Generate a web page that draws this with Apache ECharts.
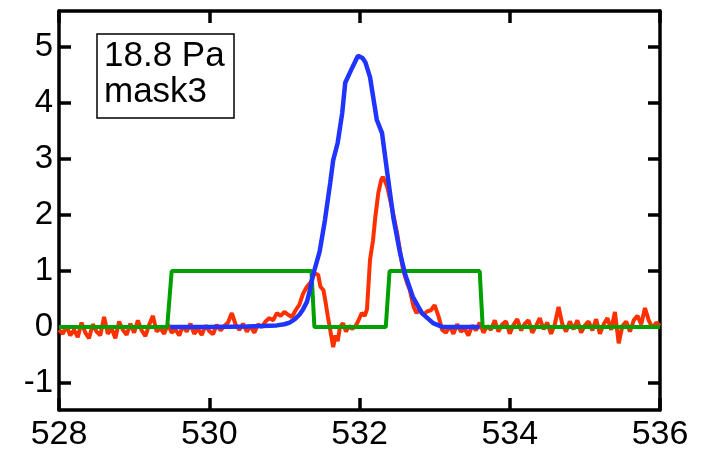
<!DOCTYPE html>
<html>
<head>
<meta charset="utf-8">
<script src="https://cdn.jsdelivr.net/npm/echarts@6/dist/echarts.min.js"></script>
<style>html,body{margin:0;padding:0;background:#fff;}#c{width:706px;height:452px;}</style>
</head>
<body>
<div id="c"></div>
<script>
// ---- data ----
const yTickValues = [-1, 0, 1, 2, 3, 4, 5];
const xTickValues = [528, 530, 532, 534, 536];
const boxLines = ['18.8 Pa', 'mask3'];

const greenX = [528, 529.44, 529.5, 531.36, 531.4, 532.35, 532.4, 533.6, 533.64, 536];
const greenY = [0, 0, 1, 1, 0, 0, 1, 1, 0, 0];

const blueX = [529.48, 530.0, 530.5, 530.9, 531.0, 531.07, 531.14, 531.2, 531.25, 531.3, 531.34, 531.38, 531.47, 531.54, 531.61, 531.65, 531.71, 531.77, 531.81, 531.9, 531.98, 532.04, 532.08, 532.14, 532.23, 532.3, 532.37, 532.45, 532.54, 532.61, 532.71, 532.83, 532.98, 533.11, 533.6];
const blueY = [0, 0, 0.01, 0.03, 0.05, 0.08, 0.14, 0.22, 0.32, 0.45, 0.66, 0.92, 1.35, 1.91, 2.57, 2.98, 3.29, 3.82, 4.36, 4.62, 4.84, 4.8, 4.72, 4.46, 3.7, 3.46, 2.75, 1.96, 1.32, 0.93, 0.54, 0.25, 0.07, 0.0, 0.0];

const redX = [
528.00,528.05,528.10,528.15,528.20,528.25,528.30,528.35,528.40,528.45,
528.50,528.55,528.60,528.65,528.70,528.75,528.80,528.85,528.90,528.95,
529.00,529.05,529.10,529.15,529.20,529.25,529.30,529.35,529.40,529.45,
529.50,529.55,529.60,529.65,529.70,529.75,529.80,529.85,529.90,529.95,
530.00,530.05,530.10,530.15,530.20,530.25,530.30,530.35,530.40,530.45,
530.50,530.55,530.60,530.65,530.70,530.75,530.80,530.85,530.90,530.95,
531.00,531.05,531.10,531.15,531.20,531.25,531.30,531.35,531.40,531.45,
531.48,531.52,531.55,531.58,531.61,531.65,531.68,531.71,531.74,531.78,
531.82,531.86,531.90,531.94,531.98,532.03,532.07,532.10,532.14,532.18,
532.21,532.25,532.29,532.31,532.34,532.37,532.43,532.50,532.58,532.63,
532.67,532.72,532.76,532.80,532.85,532.90,532.95,533.00,533.05,533.10,
533.15,533.20,533.25,533.30,533.35,533.40,533.45,533.50,533.55,533.60,
533.65,533.70,533.75,533.80,533.85,533.90,533.95,534.00,534.05,534.10,
534.15,534.20,534.25,534.30,534.35,534.40,534.45,534.50,534.55,534.60,
534.65,534.70,534.75,534.80,534.85,534.90,534.95,535.00,535.05,535.10,
535.15,535.20,535.25,535.30,535.35,535.40,535.45,535.50,535.55,535.60,
535.65,535.70,535.75,535.80,535.85,535.90,535.95,536.00];
const redY = [
-0.05,-0.12,0.02,-0.15,-0.05,-0.18,0.08,-0.10,-0.20,0.05,
-0.08,-0.15,0.18,-0.12,-0.02,-0.20,0.10,-0.05,-0.14,0.06,
-0.10,0.12,-0.06,-0.16,0.04,0.20,-0.08,-0.02,-0.12,0.05,
-0.10,-0.04,-0.15,0.02,-0.08,0.06,-0.12,-0.03,-0.14,0.03,
-0.07,-0.13,0.04,-0.06,0.02,0.08,0.25,0.05,-0.05,0.06,
-0.08,0.02,-0.10,0.05,0.00,0.10,0.16,0.12,0.25,0.20,
0.27,0.22,0.18,0.30,0.40,0.60,0.72,0.80,0.96,0.93,
0.72,0.66,0.43,0.18,-0.05,-0.36,-0.15,-0.25,0.00,0.07,
-0.08,0.02,-0.03,0.00,0.10,0.25,0.20,0.32,1.20,1.55,
1.96,2.39,2.63,2.68,2.60,2.50,2.14,1.68,1.02,0.80,
0.66,0.36,0.25,0.32,0.22,0.28,0.30,0.39,0.20,-0.05,
-0.10,0.02,-0.12,0.05,-0.08,-0.03,-0.15,0.03,-0.06,0.08,
-0.10,0.02,-0.05,0.12,-0.08,0.05,0.10,-0.12,0.04,0.14,
-0.06,0.06,0.12,-0.10,0.02,0.16,-0.04,0.08,-0.12,0.05,
0.36,0.05,-0.08,0.10,-0.04,0.12,-0.10,0.03,0.10,-0.06,
0.14,-0.12,0.05,0.16,-0.05,0.27,-0.29,0.02,0.10,-0.08,
0.12,0.20,0.05,0.34,0.12,-0.02,0.08,0.02];

const zip = (xs, ys) => xs.map((x, i) => [x, ys[i]]);

const FONT = '"Liberation Sans", Arial, sans-serif';
const axisLine = { show: true, onZero: false, lineStyle: { color: '#000', width: 3.5 } };
const tick = (vals) => ({ show: true, inside: true, length: 12, lineStyle: { color: '#000', width: 3.5 }, customValues: vals });

const chart = echarts.init(document.getElementById('c'), null, { renderer: 'canvas' });
chart.setOption({
  animation: false,
  backgroundColor: '#fff',
  grid: { left: 59, right: 46, top: 11, bottom: 42, containLabel: false },
  xAxis: [
    { type: 'value', position: 'bottom', min: 528, max: 536, axisLine, axisTick: tick(xTickValues),
      splitLine: { show: false },
      axisLabel: { customValues: xTickValues, color: '#000', fontSize: 34, fontFamily: FONT, margin: 8 } },
    { type: 'value', position: 'top', min: 528, max: 536, axisLine, axisTick: tick(xTickValues),
      splitLine: { show: false }, axisLabel: { show: false } }
  ],
  yAxis: [
    { type: 'value', position: 'left', min: -1.48, max: 5.64, axisLine, axisTick: tick(yTickValues),
      splitLine: { show: false },
      axisLabel: { customValues: yTickValues, color: '#000', fontSize: 33, fontFamily: FONT, margin: 6 } },
    { type: 'value', position: 'right', min: -1.48, max: 5.64, axisLine, axisTick: tick(yTickValues),
      splitLine: { show: false }, axisLabel: { show: false } }
  ],
  series: [
    { type: 'line', data: zip(redX, redY), showSymbol: false, lineStyle: { color: '#ff3000', width: 4 }, z: 2 },
    { type: 'line', data: zip(greenX, greenY), showSymbol: false, lineStyle: { color: '#00a000', width: 4 }, z: 3 },
    { type: 'line', data: zip(blueX, blueY), showSymbol: false, lineStyle: { color: '#1f35ff', width: 4.5 }, z: 4 }
  ],
  graphic: [
    { type: 'rect', shape: { x: 97, y: 34, width: 137, height: 84 }, style: { fill: '#fff', stroke: '#000', lineWidth: 1.5 }, z: 10 },
    { type: 'text', x: 104, y: 56, style: { text: boxLines[0], font: '35px ' + FONT, fill: '#000', verticalAlign: 'middle' }, z: 11 },
    { type: 'text', x: 104, y: 92, style: { text: boxLines[1], font: '35px ' + FONT, fill: '#000', verticalAlign: 'middle' }, z: 11 }
  ]
});
</script>
</body>
</html>
